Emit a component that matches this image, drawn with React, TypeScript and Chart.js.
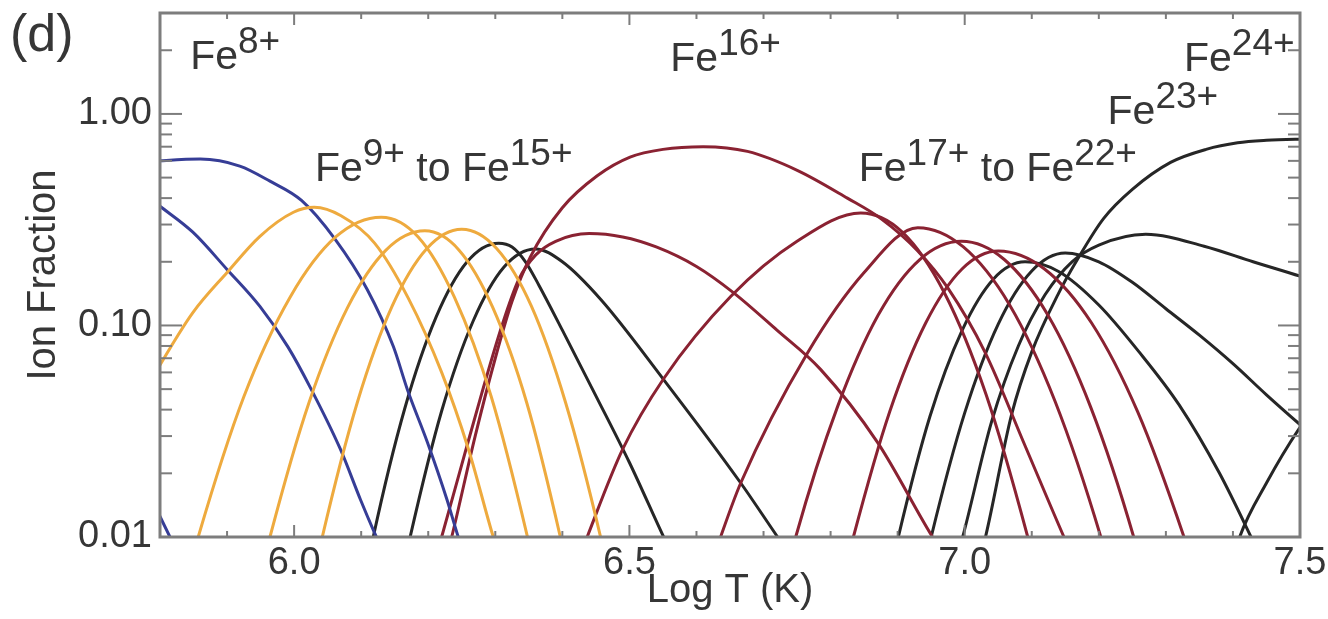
import React, { useEffect, useRef } from 'react';
import { Chart, registerables } from 'chart.js';

Chart.register(...registerables);

// ---------- data (log T in K, ion fraction) ----------
const fe6T = [5.76, 5.8, 5.825];
const fe6F = [0.023, 0.0125, 0.0086];

const fe7T = [5.77, 5.8, 5.849, 5.9, 5.949, 5.991, 6.024, 6.069, 6.099, 6.118, 6.13];
const fe7F = [0.434, 0.366, 0.276, 0.184, 0.123, 0.079, 0.051, 0.026, 0.015, 0.0108, 0.0089];

const fe8T = [5.77, 5.8, 5.86, 5.919, 5.964, 6.011, 6.061, 6.109, 6.148, 6.169, 6.199, 6.228, 6.24, 6.25];
const fe8F = [0.59, 0.6, 0.612, 0.567, 0.481, 0.39, 0.256, 0.148, 0.0795, 0.0497, 0.0279, 0.015, 0.0112, 0.0088];

const fe9T = [5.77, 5.8, 5.849, 5.9, 5.949, 5.999, 6.03, 6.07, 6.12, 6.17, 6.22, 6.26, 6.297, 6.31];
const fe9F = [0.044, 0.065, 0.115, 0.178, 0.264, 0.343, 0.362, 0.33, 0.245, 0.135, 0.06, 0.026, 0.01, 0.0075];

const fe10T = [5.83, 5.857, 5.925, 5.994, 6.062, 6.13, 6.185, 6.239, 6.294, 6.348, 6.37];
const fe10F = [0.0048, 0.01, 0.046, 0.136, 0.262, 0.325, 0.262, 0.136, 0.046, 0.01, 0.0048];

const fe11T = [5.941, 5.964, 6.022, 6.08, 6.137, 6.195, 6.246, 6.296, 6.347, 6.397, 6.417];
const fe11F = [0.005, 0.01, 0.043, 0.122, 0.227, 0.28, 0.227, 0.122, 0.043, 0.01, 0.005];

const fe12T = [6.021, 6.042, 6.094, 6.146, 6.198, 6.25, 6.302, 6.354, 6.405, 6.457, 6.478];
const fe12F = [0.0049, 0.01, 0.043, 0.123, 0.231, 0.285, 0.231, 0.123, 0.043, 0.01, 0.0049];

const fe13T = [6.1, 6.118, 6.165, 6.212, 6.258, 6.305, 6.325, 6.345, 6.365, 6.4, 6.45, 6.5, 6.551, 6.57];
const fe13F = [0.0051, 0.01, 0.0405, 0.11, 0.2, 0.245, 0.235, 0.2, 0.155, 0.095, 0.0465, 0.0225, 0.01, 0.0075];

const fe14T = [6.154, 6.173, 6.22, 6.267, 6.313, 6.36, 6.4, 6.457, 6.551, 6.666, 6.721, 6.74];
const fe14F = [0.0052, 0.01, 0.0394, 0.105, 0.189, 0.23, 0.2, 0.133, 0.0555, 0.018, 0.01, 0.0082];

const fe15T = [6.205, 6.22, 6.25, 6.28, 6.31, 6.335, 6.36, 6.39, 6.44, 6.49, 6.54, 6.6, 6.655, 6.72, 6.785, 6.87, 6.952, 6.97];
const fe15F = [0.0068, 0.01, 0.022, 0.048, 0.1, 0.165, 0.215, 0.25, 0.272, 0.262, 0.235, 0.19, 0.143, 0.095, 0.062, 0.028, 0.01, 0.0082];

const fe16T = [6.22, 6.235, 6.27, 6.3, 6.325, 6.352, 6.4, 6.452, 6.501, 6.55, 6.61, 6.676, 6.751, 6.825, 6.875, 6.93, 6.975, 7.03, 7.09, 7.148, 7.17];
const fe16F = [0.0066, 0.01, 0.03, 0.07, 0.13, 0.21, 0.36, 0.51, 0.625, 0.68, 0.7, 0.665, 0.54, 0.4, 0.32, 0.225, 0.15, 0.075, 0.027, 0.01, 0.007];

const fe17T = [6.42, 6.437, 6.49, 6.551, 6.651, 6.75, 6.845, 6.907, 6.97, 7.032, 7.094, 7.119];
const fe17F = [0.0072, 0.01, 0.026, 0.056, 0.137, 0.25, 0.34, 0.276, 0.142, 0.047, 0.01, 0.0048];

const fe18T = [6.615, 6.636, 6.666, 6.766, 6.85, 6.93, 6.998, 7.067, 7.135, 7.203, 7.23];
const fe18F = [0.0063, 0.01, 0.018, 0.0745, 0.178, 0.29, 0.235, 0.125, 0.0436, 0.01, 0.0048];

const fe19T = [6.723, 6.748, 6.81, 6.871, 6.933, 6.995, 7.059, 7.124, 7.188, 7.252, 7.278];
const fe19F = [0.0048, 0.01, 0.041, 0.112, 0.205, 0.25, 0.205, 0.112, 0.041, 0.01, 0.0048];

const fe20T = [6.812, 6.834, 6.888, 6.942, 6.996, 7.05, 7.119, 7.189, 7.258, 7.327, 7.355];
const fe20F = [0.0052, 0.01, 0.039, 0.103, 0.185, 0.225, 0.185, 0.103, 0.039, 0.01, 0.0052];

const fe21T = [6.882, 6.901, 6.948, 6.996, 7.043, 7.09, 7.14, 7.2, 7.26, 7.32, 7.38, 7.427, 7.45];
const fe21F = [0.0053, 0.01, 0.037, 0.0946, 0.166, 0.2, 0.18, 0.125, 0.075, 0.042, 0.02, 0.01, 0.007];

const fe22T = [6.93, 6.95, 7.0, 7.05, 7.1, 7.15, 7.2, 7.25, 7.3, 7.35, 7.4, 7.45, 7.5, 7.52];
const fe22F = [0.0052, 0.01, 0.0386, 0.1015, 0.181, 0.22, 0.2, 0.16, 0.12, 0.09, 0.066, 0.047, 0.034, 0.03];

const fe23T = [6.98, 6.997, 7.04, 7.08, 7.12, 7.16, 7.2, 7.27, 7.357, 7.43, 7.5, 7.52];
const fe23F = [0.0065, 0.01, 0.035, 0.08, 0.14, 0.2, 0.24, 0.27, 0.237, 0.2, 0.171, 0.163];

const fe24T = [7.015, 7.031, 7.07, 7.1, 7.139, 7.17, 7.207, 7.25, 7.307, 7.36, 7.407, 7.45, 7.5, 7.52];
const fe24F = [0.0065, 0.01, 0.038, 0.075, 0.14, 0.21, 0.32, 0.44, 0.59, 0.68, 0.73, 0.75, 0.76, 0.762];

const fe25T = [7.39, 7.41, 7.45, 7.5, 7.52];
const fe25F = [0.006, 0.01, 0.018, 0.033, 0.04];

// ---------- axes ----------
const xTickValues = [6.0, 6.5, 7.0, 7.5];
const xTickLabels = ['6.0', '6.5', '7.0', '7.5'];
const xMinorTickValues = [5.9, 6.1, 6.2, 6.3, 6.4, 6.6, 6.7, 6.8, 6.9, 7.1, 7.2, 7.3, 7.4];
const yTickValues = [0.01, 0.1, 1];
const yTickLabels = ['0.01', '0.10', '1.00'];
const yMinorTickValues = [0.02, 0.03, 0.04, 0.05, 0.06, 0.07, 0.08, 0.09, 0.2, 0.3, 0.4, 0.5, 0.6, 0.7, 0.8, 0.9, 2];

// ---------- series registry (drawing order: orange, blue, red, black) ----------
const BLUE = '#363d96';
const ORANGE = '#eeaa3e';
const RED = '#8a2232';
const BLACK = '#262626';

const series = [
  { ion: 'Fe9+', t: fe9T, f: fe9F, color: ORANGE },
  { ion: 'Fe10+', t: fe10T, f: fe10F, color: ORANGE },
  { ion: 'Fe11+', t: fe11T, f: fe11F, color: ORANGE },
  { ion: 'Fe12+', t: fe12T, f: fe12F, color: ORANGE },
  { ion: 'Fe6+', t: fe6T, f: fe6F, color: BLUE },
  { ion: 'Fe7+', t: fe7T, f: fe7F, color: BLUE },
  { ion: 'Fe8+', t: fe8T, f: fe8F, color: BLUE },
  { ion: 'Fe15+', t: fe15T, f: fe15F, color: RED },
  { ion: 'Fe16+', t: fe16T, f: fe16F, color: RED },
  { ion: 'Fe17+', t: fe17T, f: fe17F, color: RED },
  { ion: 'Fe18+', t: fe18T, f: fe18F, color: RED },
  { ion: 'Fe19+', t: fe19T, f: fe19F, color: RED },
  { ion: 'Fe20+', t: fe20T, f: fe20F, color: RED },
  { ion: 'Fe13+', t: fe13T, f: fe13F, color: BLACK },
  { ion: 'Fe14+', t: fe14T, f: fe14F, color: BLACK },
  { ion: 'Fe21+', t: fe21T, f: fe21F, color: BLACK },
  { ion: 'Fe22+', t: fe22T, f: fe22F, color: BLACK },
  { ion: 'Fe23+', t: fe23T, f: fe23F, color: BLACK },
  { ion: 'Fe24+', t: fe24T, f: fe24F, color: BLACK },
  { ion: 'Fe25+', t: fe25T, f: fe25F, color: BLACK },
];

// ---------- annotations (anchored in data coordinates) ----------
const annotations: { t: number; f: number; parts: [string, boolean][] }[] = [
  { t: 5.845, f: 1.63, parts: [['Fe', false], ['8+', true]] },
  { t: 6.031, f: 0.481, parts: [['Fe', false], ['9+', true], [' to ', false], ['Fe', false], ['15+', true]] },
  { t: 6.561, f: 1.6, parts: [['Fe', false], ['16+', true]] },
  { t: 6.842, f: 0.481, parts: [['Fe', false], ['17+', true], [' to ', false], ['Fe', false], ['22+', true]] },
  { t: 7.213, f: 0.897, parts: [['Fe', false], ['23+', true]] },
  { t: 7.327, f: 1.6, parts: [['Fe', false], ['24+', true]] },
];

const FONT = "'Liberation Sans', Arial, Helvetica, sans-serif";
const TEXT = '#363636';
const FRAME = '#7d7d7d';

const decorPlugin = {
  id: 'decor',
  afterDatasetsDraw(chart: any) {
    const { ctx, chartArea: a, scales } = chart;
    const xs = scales.x;
    const ys = scales.y;
    ctx.save();
    ctx.strokeStyle = FRAME;
    ctx.lineWidth = 2;
    const seg = (x1: number, y1: number, x2: number, y2: number) => {
      ctx.beginPath();
      ctx.moveTo(x1, y1);
      ctx.lineTo(x2, y2);
      ctx.stroke();
    };
    yTickValues.forEach((v) => {
      const p = ys.getPixelForValue(v);
      seg(a.left, p, a.left + 22, p);
      seg(a.right, p, a.right - 22, p);
    });
    yMinorTickValues.forEach((v) => {
      const p = ys.getPixelForValue(v);
      seg(a.left, p, a.left + 12, p);
      seg(a.right, p, a.right - 12, p);
    });
    xTickValues.forEach((v) => {
      const p = xs.getPixelForValue(v);
      seg(p, a.bottom, p, a.bottom - 12);
      seg(p, a.top, p, a.top + 12);
    });
    xMinorTickValues.forEach((v) => {
      const p = xs.getPixelForValue(v);
      seg(p, a.bottom, p, a.bottom - 6);
      seg(p, a.top, p, a.top + 6);
    });
    ctx.lineWidth = 3;
    ctx.strokeRect(a.left, a.top, a.right - a.left, a.bottom - a.top);

    ctx.fillStyle = TEXT;
    ctx.textAlign = 'left';
    ctx.textBaseline = 'alphabetic';
    ctx.font = `52px ${FONT}`;
    ctx.fillText('(d)', 10, 51);
    annotations.forEach((an) => {
      let px = xs.getPixelForValue(an.t);
      const py = ys.getPixelForValue(an.f);
      an.parts.forEach(([txt, sup]) => {
        ctx.font = sup ? `37px ${FONT}` : `41px ${FONT}`;
        ctx.fillText(txt, px, sup ? py - 16 : py);
        px += ctx.measureText(txt).width;
      });
    });
    ctx.restore();
  },
};

export default function App() {
  const ref = useRef<HTMLCanvasElement>(null);

  useEffect(() => {
    if (!ref.current) return;
    const chart = new Chart(ref.current, {
      type: 'line',
      data: {
        datasets: series.map((s) => ({
          label: s.ion,
          data: s.t.map((t, i) => ({ x: t, y: s.f[i] })),
          borderColor: s.color,
          backgroundColor: s.color,
          borderWidth: 3,
          pointRadius: 0,
          fill: false,
          cubicInterpolationMode: 'monotone' as const,
        })),
      },
      options: {
        responsive: false,
        animation: false,
        devicePixelRatio: 1,
        layout: { padding: { left: 0, right: 28, top: 13, bottom: 0 } },
        plugins: { legend: { display: false }, tooltip: { enabled: false } },
        scales: {
          x: {
            type: 'linear',
            min: 5.8,
            max: 7.5,
            afterBuildTicks: (s: any) => {
              s.ticks = xTickValues.map((v) => ({ value: v }));
            },
            afterFit: (s: any) => {
              s.height = 82;
              s.paddingLeft = 0;
              s.paddingRight = 0;
            },
            grid: { display: false, drawTicks: false },
            border: { display: false },
            ticks: {
              autoSkip: false,
              maxRotation: 0,
              padding: 4,
              color: TEXT,
              font: { family: FONT, size: 38 },
              callback: (_v: any, i: number) => xTickLabels[i],
            },
            title: {
              display: true,
              text: 'Log T (K)',
              color: TEXT,
              font: { family: FONT, size: 40 },
              padding: { top: 0, bottom: 4 },
            },
          },
          y: {
            type: 'logarithmic',
            min: 0.01,
            max: 3,
            afterBuildTicks: (s: any) => {
              s.ticks = yTickValues.map((v) => ({ value: v }));
            },
            afterFit: (s: any) => {
              s.width = 160;
              s.paddingTop = 0;
              s.paddingBottom = 0;
            },
            grid: { display: false, drawTicks: false },
            border: { display: false },
            ticks: {
              autoSkip: false,
              padding: 8,
              color: TEXT,
              font: { family: FONT, size: 38 },
              callback: (_v: any, i: number) => yTickLabels[i],
            },
            title: {
              display: true,
              text: 'Ion Fraction',
              color: TEXT,
              font: { family: FONT, size: 40 },
              padding: { top: 20, bottom: 0 },
            },
          },
        },
      },
      plugins: [decorPlugin],
    });
    return () => chart.destroy();
  }, []);

  return (
    <div style={{ position: 'fixed', left: 0, top: 0, width: 1328, height: 619, background: '#fff' }}>
      <canvas ref={ref} width={1328} height={619} style={{ display: 'block', width: 1328, height: 619 }} />
    </div>
  );
}
